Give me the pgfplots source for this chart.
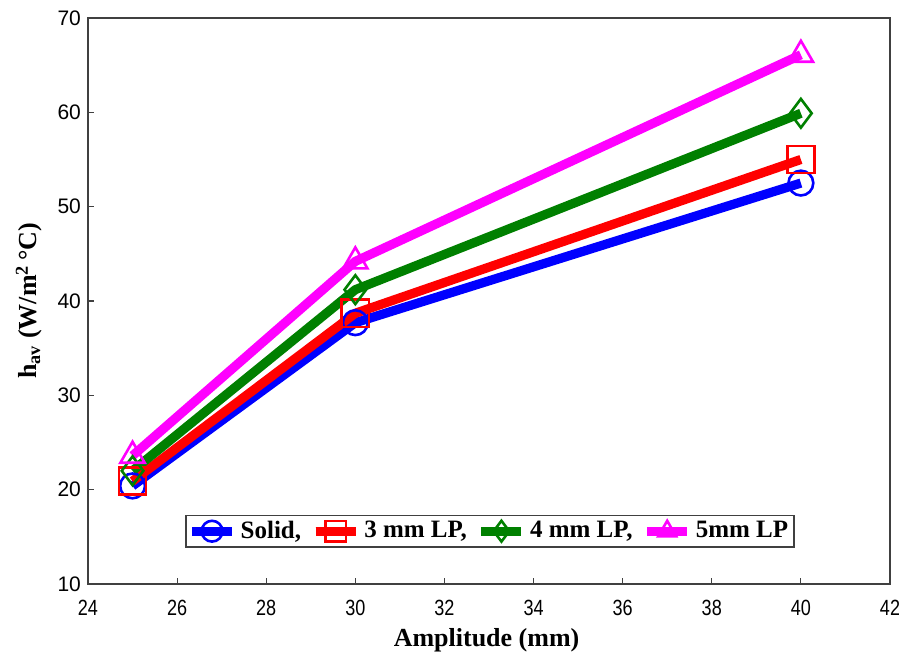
\documentclass[border=0pt]{standalone}
\usepackage{fontspec}
\setmainfont{Liberation Serif}
\newfontfamily\ticksans{Liberation Sans}
\newfontfamily\narrowsans{Liberation Sans}[FakeStretch=0.82]
\usepackage{pgfplots}
\pgfplotsset{compat=1.18}
\definecolor{cblue}{RGB}{0,0,255}
\definecolor{cred}{RGB}{255,0,0}
\definecolor{cgreen}{RGB}{0,128,0}
\definecolor{cmag}{RGB}{255,0,255}
\begin{document}
\begin{tikzpicture}
\begin{axis}[
    width=401pt, height=283pt,
    scale only axis,
    xmin=24, xmax=42, ymin=10, ymax=70,
    xtick={24,26,...,42}, ytick={10,20,...,70},
    tick pos=left, tick align=inside,
    major tick length=3pt,
    axis line style={draw=black!75, line width=0.8pt},
    every tick/.style={black!75, line width=0.6pt},
    /pgf/number format/assume math mode=true,
    xticklabel style={font=\narrowsans\fontsize{11}{12}\selectfont, yshift=-4.5pt},
    yticklabel style={font=\ticksans\fontsize{10.5}{12}\selectfont},
    xlabel={\textbf{Amplitude (mm)}},
    ylabel={\textbf{h\textsubscript{av} (W/m\textsuperscript{2}\,°C)}},
    label style={font=\fontsize{13}{15}\selectfont},
    xlabel style={at={(axis description cs:0.497,-0.099)}, anchor=center},
    ylabel style={at={(axis description cs:-0.0736,0.5)}, anchor=center},
    legend columns=4,
    legend style={at={(0.501,0.064)}, anchor=south, font=\bfseries\fontsize{12.5}{14}\selectfont,
        draw=black!75, line width=0.8pt, inner sep=0.8pt,
        /tikz/every even column/.append style={column sep=3pt}},
    legend image code/.code={
        \draw[#1] (0pt,0pt) -- (20pt,0pt);
        \draw[#1, mark size=5.2pt, mark repeat=2, mark phase=2] plot coordinates {(0pt,0pt) (10pt,0pt) (20pt,0pt)};
    },
    every axis plot/.append style={line width=4.6pt,
        mark options={solid, fill=none, line width=1.3pt}},
]
\addplot[cblue, mark=o, mark size=6.2pt] coordinates {(25,20.4) (30,37.7) (40,52.5)};
\addplot[cred, mark=square, mark size=6.8pt] coordinates {(25,20.9) (30,38.7) (40,55.0)};
\addplot[cgreen, mark=diamond, mark size=7.2pt] coordinates {(25,22.0) (30,41.2) (40,59.9)};
\addplot[cmag, mark=triangle, mark size=7pt] coordinates {(25,23.6) (30,44.2) (40,66.1)};
\legend{{Solid,}, {3 mm LP,}, {4 mm LP,}, {5mm LP}}
\end{axis}
\pgfresetboundingbox
\path ([xshift=-44pt,yshift=9pt]current axis.north west)
      ([xshift=4.5pt,yshift=-36.5pt]current axis.south east);
\end{tikzpicture}
\end{document}
